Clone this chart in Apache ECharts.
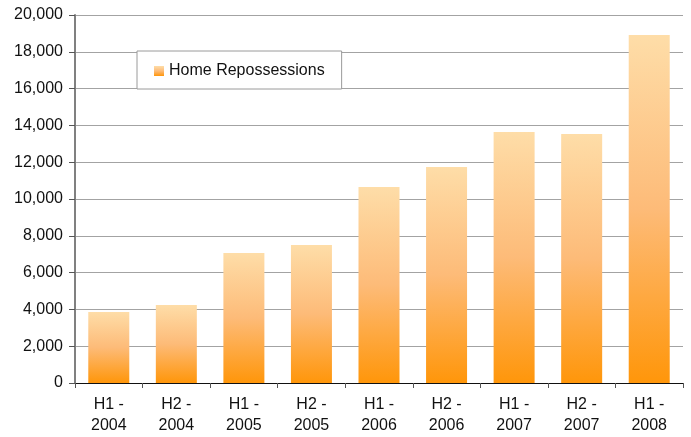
<!DOCTYPE html>
<html>
<head>
<meta charset="utf-8">
<script src="https://cdn.jsdelivr.net/npm/echarts@6/dist/echarts.min.js"></script>
<style>
  html, body { margin: 0; padding: 0; background: #fff; }
  #chart { width: 691px; height: 437px; }
</style>
</head>
<body>
<div id="chart"></div>
<script>
// Half-year periods and repossession counts
const periods = ['H1 -\n2004', 'H2 -\n2004', 'H1 -\n2005', 'H2 -\n2005', 'H1 -\n2006',
                 'H2 -\n2006', 'H1 -\n2007', 'H2 -\n2007', 'H1 -\n2008'];
const repossessions = [3860, 4240, 7060, 7500, 10650, 11740, 13640, 13530, 18910];
const seriesName = 'Home Repossessions';

const font = 'Arial, "Liberation Sans", sans-serif';

// Light peach at the top of each bar fading to deep orange at the base
const barFill = new echarts.graphic.LinearGradient(0, 0, 0, 1, [
  { offset: 0, color: '#FEDDA8' },
  { offset: 0.5, color: '#FDBB78' },
  { offset: 1, color: '#FF960A' }
]);

const chart = echarts.init(document.getElementById('chart'), null, { renderer: 'canvas' });
chart.setOption({
  animation: false,
  backgroundColor: '#ffffff',
  grid: { left: 75, right: 8, top: 15, bottom: 54, containLabel: false },
  legend: {
    data: [{ name: seriesName, icon: 'rect' }],
    left: 137,
    top: 51,
    padding: [12, 17, 10, 17],
    itemWidth: 10,
    itemHeight: 10,
    itemGap: 5,
    borderColor: '#9a9a9a',
    borderWidth: 1,
    backgroundColor: '#ffffff',
    textStyle: { fontFamily: font, fontSize: 16, color: '#111' }
  },
  xAxis: {
    type: 'category',
    data: periods,
    axisLine: { lineStyle: { color: '#111', width: 1 } },
    axisTick: { show: true, length: 5, lineStyle: { color: '#555' } },
    axisLabel: {
      fontFamily: font, fontSize: 16, color: '#111',
      lineHeight: 21, margin: 11, interval: 0
    }
  },
  yAxis: {
    type: 'value',
    min: 0,
    max: 20000,
    interval: 2000,
    axisLine: { show: true, lineStyle: { color: '#808080', width: 2 } },
    axisTick: { show: true, length: 6, lineStyle: { color: '#555' } },
    splitLine: { lineStyle: { color: '#a3a3a3', width: 1 } },
    axisLabel: {
      fontFamily: font, fontSize: 16, color: '#111', margin: 12,
      formatter: v => v.toLocaleString('en-US')
    }
  },
  series: [{
    name: seriesName,
    type: 'bar',
    data: repossessions,
    barWidth: 41,
    itemStyle: { color: barFill }
  }]
});
</script>
</body>
</html>
